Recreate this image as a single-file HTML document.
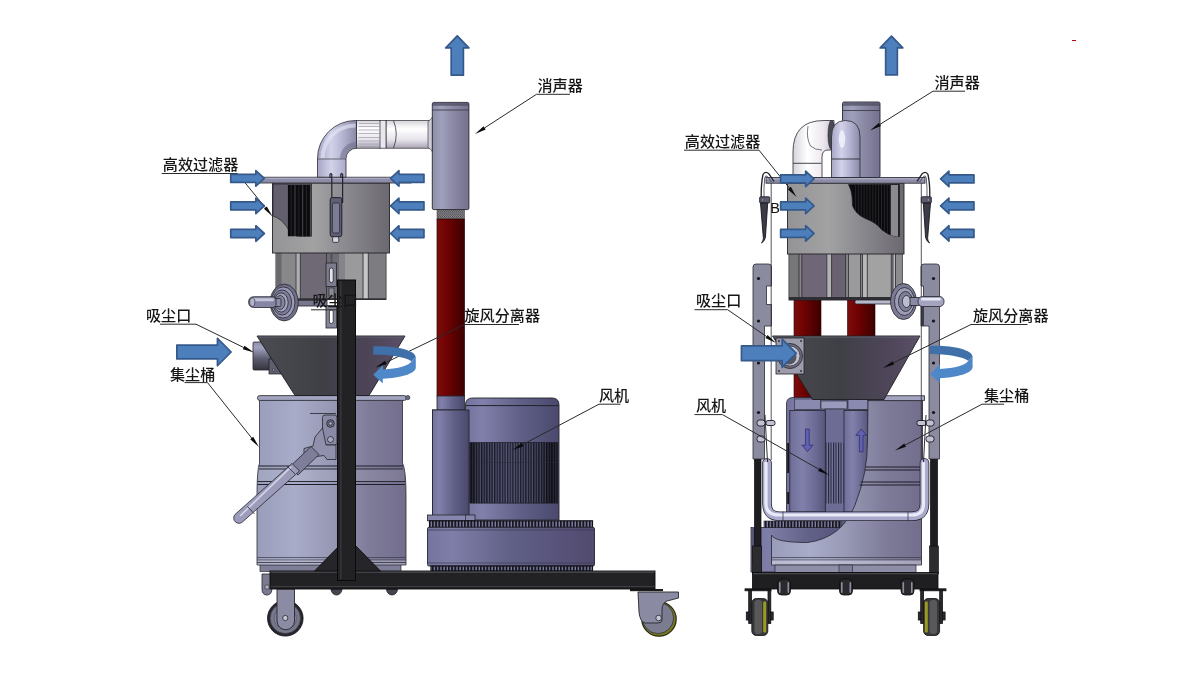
<!DOCTYPE html>
<html lang="zh-CN">
<head>
<meta charset="utf-8">
<title>工业吸尘器结构示意图</title>
<style>
html,body{margin:0;padding:0;background:#fff;}
body{width:1200px;height:680px;overflow:hidden;font-family:"Liberation Sans","Noto Sans CJK SC",sans-serif;}
svg{display:block;position:absolute;left:0;top:0;filter:blur(0.45px);}
.lbl{font-family:"Liberation Sans","Noto Sans CJK SC",sans-serif;font-size:15.1px;font-weight:500;fill:#161616;}
.ltr{font-family:"Liberation Sans",sans-serif;font-size:14.5px;fill:#111;}
.ld{stroke:#2a2a2a;stroke-width:1;fill:none;}
.ah{fill:#0c0c0c;stroke:none;}
.ar{fill:#4c7fbc;stroke:#34598a;stroke-width:1.7;stroke-linejoin:round;}
.ol{stroke:#2a2a30;stroke-width:0.8;}
</style>
</head>
<body>
<svg width="1200" height="680" viewBox="0 0 1200 680">
<defs>
  <!-- lavender metal, horizontal cylinder shading -->
  <linearGradient id="gLav" x1="0" x2="1" y1="0" y2="0">
    <stop offset="0" stop-color="#8c8eae"/><stop offset="0.28" stop-color="#a6a8c4"/><stop offset="0.6" stop-color="#8a8aa8"/><stop offset="1" stop-color="#66647f"/>
  </linearGradient>
  <linearGradient id="gSil" x1="0" x2="1" y1="0" y2="0">
    <stop offset="0" stop-color="#8c8eaa"/><stop offset="0.25" stop-color="#9ea0bc"/><stop offset="0.6" stop-color="#8987a3"/><stop offset="1" stop-color="#74718e"/>
  </linearGradient>
  <linearGradient id="gBin" x1="0" x2="1" y1="0" y2="0">
    <stop offset="0" stop-color="#9a9db9"/><stop offset="0.25" stop-color="#a9acc8"/><stop offset="0.5" stop-color="#9698b4"/><stop offset="0.75" stop-color="#7f7c9a"/><stop offset="1" stop-color="#726d8c"/>
  </linearGradient>
  <linearGradient id="gMot" x1="0" x2="1" y1="0" y2="0">
    <stop offset="0" stop-color="#72729c"/><stop offset="0.18" stop-color="#8080aa"/><stop offset="0.55" stop-color="#62628a"/><stop offset="1" stop-color="#4a486c"/>
  </linearGradient>
  <linearGradient id="gBase" x1="0" x2="1" y1="0" y2="0">
    <stop offset="0" stop-color="#74749e"/><stop offset="0.15" stop-color="#7e7ea8"/><stop offset="0.5" stop-color="#606086"/><stop offset="0.8" stop-color="#58527a"/><stop offset="1" stop-color="#524a6e"/>
  </linearGradient>
  <linearGradient id="gRed" x1="0" x2="1" y1="0" y2="0">
    <stop offset="0" stop-color="#7c0d0d"/><stop offset="0.35" stop-color="#700202"/><stop offset="1" stop-color="#3c0000"/>
  </linearGradient>
  <linearGradient id="gFil" x1="0" x2="1" y1="0" y2="0">
    <stop offset="0" stop-color="#949396"/><stop offset="0.35" stop-color="#a2a2a3"/><stop offset="0.7" stop-color="#85838a"/><stop offset="1" stop-color="#6c6870"/>
  </linearGradient>
  <linearGradient id="gCone" x1="0" x2="1" y1="0" y2="0">
    <stop offset="0" stop-color="#4b4b52"/><stop offset="0.45" stop-color="#3f3f46"/><stop offset="0.8" stop-color="#4f465a"/><stop offset="1" stop-color="#5c5068"/>
  </linearGradient>
  <linearGradient id="gWhite" x1="0" x2="0" y1="0" y2="1">
    <stop offset="0" stop-color="#d6d4da"/><stop offset="0.3" stop-color="#ffffff"/><stop offset="0.7" stop-color="#e6e2ea"/><stop offset="1" stop-color="#a9a3b3"/>
  </linearGradient>
  <linearGradient id="gWhiteH" x1="0" x2="1" y1="0" y2="0">
    <stop offset="0" stop-color="#d6d4da"/><stop offset="0.35" stop-color="#ffffff"/><stop offset="0.75" stop-color="#ece6ee"/><stop offset="1" stop-color="#c3b6c9"/>
  </linearGradient>
  <linearGradient id="gElbV" x1="0" x2="1" y1="0" y2="0">
    <stop offset="0" stop-color="#a6a6c4"/><stop offset="0.35" stop-color="#d2d2ea"/><stop offset="0.7" stop-color="#aeaecc"/><stop offset="1" stop-color="#8a89a6"/>
  </linearGradient>
  <linearGradient id="gElbH" x1="0" x2="0" y1="0" y2="1">
    <stop offset="0" stop-color="#9a9ab8"/><stop offset="0.35" stop-color="#c8c8de"/><stop offset="0.7" stop-color="#a2a2be"/><stop offset="1" stop-color="#7d7c95"/>
  </linearGradient>
  <linearGradient id="gTube" x1="0" x2="0" y1="0" y2="1">
    <stop offset="0" stop-color="#8f8fb0"/><stop offset="0.35" stop-color="#e8e8f6"/><stop offset="1" stop-color="#8585a6"/>
  </linearGradient>
  <linearGradient id="gTubeV" x1="0" x2="1" y1="0" y2="0">
    <stop offset="0" stop-color="#8f8fb0"/><stop offset="0.4" stop-color="#e8e8f6"/><stop offset="1" stop-color="#8585a6"/>
  </linearGradient>
  <linearGradient id="gInlet" x1="0" x2="0" y1="0" y2="1">
    <stop offset="0" stop-color="#8e8eae"/><stop offset="0.2" stop-color="#a2a2c0"/><stop offset="0.6" stop-color="#5c5c70"/><stop offset="1" stop-color="#34343f"/>
  </linearGradient>
  <linearGradient id="gRot" x1="0" x2="1" y1="0" y2="0">
    <stop offset="0" stop-color="#3f6ea8"/><stop offset="1" stop-color="#5b93d3"/>
  </linearGradient>
  <linearGradient id="gFinSh" x1="0" x2="1" y1="0" y2="0">
    <stop offset="0" stop-color="#000" stop-opacity="0.6"/><stop offset="0.1" stop-color="#000" stop-opacity="0.1"/><stop offset="0.45" stop-color="#8080b0" stop-opacity="0.1"/><stop offset="0.8" stop-color="#000" stop-opacity="0.12"/><stop offset="0.93" stop-color="#000" stop-opacity="0.55"/><stop offset="1" stop-color="#000" stop-opacity="0.35"/>
  </linearGradient>
  <!-- fins -->
  <pattern id="pFin" width="2.6" height="10" patternUnits="userSpaceOnUse">
    <rect width="2.6" height="10" fill="#55557a"/><rect width="1.400" height="10" fill="#17171f"/>
  </pattern>
  <pattern id="pFinB" width="7.700" height="10" patternUnits="userSpaceOnUse" x="287.800">
    <rect width="7.700" height="10" fill="#4a4650"/><rect width="6.700" height="10" fill="#0b0b0d"/><rect x="2.800" width="0.900" height="10" fill="#26262b"/>
  </pattern>
  <pattern id="pFinC" width="2.900" height="10" patternUnits="userSpaceOnUse" x="853">
    <rect width="2.900" height="10" fill="#3a3840"/><rect width="2.100" height="10" fill="#0a0a0c"/>
  </pattern>
  <pattern id="pFinM" width="2.500" height="10" patternUnits="userSpaceOnUse" x="825.500">
    <rect width="2.500" height="10" fill="#74749e"/><rect width="1.100" height="10" fill="#25253a"/>
  </pattern>
  <linearGradient id="gCyl" x1="0" x2="1" y1="0" y2="0">
    <stop offset="0" stop-color="#6e6e9a"/><stop offset="0.35" stop-color="#8080aa"/><stop offset="0.7" stop-color="#6c6c96"/><stop offset="1" stop-color="#58567c"/>
  </linearGradient>
  <pattern id="pGear" width="3.2" height="10" patternUnits="userSpaceOnUse">
    <rect width="3.2" height="10" fill="#8484ac"/><rect width="1.900" height="10" fill="#16161e"/>
  </pattern>
  <pattern id="pThread" width="2" height="2.4" patternUnits="userSpaceOnUse">
    <rect width="2" height="2.4" fill="#8a8a8e"/><rect width="1" height="1.2" fill="#4c4c50"/><rect x="1" y="1.2" width="1" height="1.2" fill="#5a5a5e"/>
  </pattern>
</defs>
<rect width="1200" height="680" fill="#ffffff"/>

<g id="left-machine">
  <!-- casters -->
  <g id="caster-l">
    <circle cx="285.3" cy="618.3" r="17.800" fill="#26262c" stroke="#131318" stroke-width="0.800"/>
    <circle cx="285.3" cy="618.3" r="15.200" fill="#77778b" stroke="#3a3a46" stroke-width="0.7"/>
    <circle cx="285.3" cy="618.3" r="11.200" fill="#83839a" stroke="#50505e" stroke-width="0.600"/>
    <path d="M277 589H294.5V621A8.7 8.7 0 0 1 277 621Z" fill="#8b8ba3" stroke="#26262e" stroke-width="0.9"/>
    <circle cx="285.3" cy="618" r="2.6" fill="#c6c6d6" stroke="#26262e" stroke-width="0.8"/>
    <path d="M262 574h10v14q0 7-5 7-5 0-5-6z" fill="#7a7a90" stroke="#26262e" stroke-width="0.8"/>
    <circle cx="267" cy="587" r="2.2" fill="#b0b0c4" stroke="#26262e" stroke-width="0.6"/>
  </g>
  <g id="caster-r">
    <circle cx="659" cy="619" r="17.2" fill="#77771f" stroke="#2a2a10" stroke-width="1.2"/>
    <circle cx="658" cy="618" r="15.6" fill="#7c7c90" stroke="#33333c" stroke-width="0.8"/>
    <path d="M638 592H678.5V598L667 601Q662 603 662 610V620Q662 623 658 623H645Q640 622 639 612Z" fill="#8a8aa2" stroke="#26262e" stroke-width="0.9"/>
    <circle cx="658.6" cy="618" r="2.8" fill="#c6c6d6" stroke="#26262e" stroke-width="0.8"/>
    <rect x="630" y="589" width="33" height="2.2" fill="#1c1c1c"/>
  </g>

  <!-- dust bin -->
  <g id="bin-l">
    <rect x="260" y="563" width="141" height="8.5" fill="#7e7e98" stroke="#2a2a30" stroke-width="0.7"/>
    <path d="M259.5 400H402.5V463Q406 470 406 495V565H257V495Q257 470 259.5 463Z" fill="url(#gBin)" stroke="#2a2a30" stroke-width="0.8"/>
    <path d="M259 466H403M259 469H403M257.500 481.500H405M257.500 484.500H405" stroke="#1e1e28" stroke-width="1.100" fill="none"/>
    <rect x="258.4" y="468.6" width="146" height="13.2" fill="#ffffff" opacity="0.08"/>
    <path d="M257 557.5H406M257 560H406" stroke="#3a3a48" stroke-width="0.7" fill="none"/>
    <rect x="257.5" y="560.4" width="148" height="4.2" fill="#c4c4d8" opacity="0.500"/>
    <path d="M257 562.500H406" stroke="#2e2e3a" stroke-width="0.800"/>
    <rect x="257.5" y="395.6" width="149" height="4.8" rx="2.2" fill="#a2a4c0" stroke="#2a2a30" stroke-width="0.8"/>
    <circle cx="407.8" cy="397.6" r="2.1" fill="#6c6c84" stroke="#2a2a30" stroke-width="0.7"/>
  </g>

  <!-- cyclone cone + inlet -->
  <g id="cone-l">
    <rect x="253" y="342" width="18" height="28" rx="1" fill="url(#gInlet)" stroke="#24242c" stroke-width="0.8"/>
    <rect x="269" y="359" width="12" height="15" fill="#5e5e6c" stroke="#1e1e24" stroke-width="0.7"/>
    <circle cx="273.6" cy="370" r="1.3" fill="#9a9aac" stroke="#1e1e24" stroke-width="0.5"/>
    <path d="M257 336H405L369 395.5H295Z" fill="url(#gCone)" stroke="#1c1c20" stroke-width="0.9"/>
    <path d="M257.5 337H404.5" stroke="#6a6a78" stroke-width="0.8"/>
  </g>

  <!-- filter -->
  <g id="filter-l">
    <rect x="276" y="252" width="110" height="47.5" fill="#858488" stroke="#1e1e22" stroke-width="0.9"/>
    <rect x="276.500" y="253" width="19" height="46" fill="#888789"/>
    <rect x="276.500" y="253" width="5" height="46" fill="#6a696d"/>
    <rect x="295.800" y="253" width="4.400" height="46" fill="#b0b0b2"/>
    <rect x="300.500" y="253" width="26.500" height="46" fill="#6f6875"/>
    <rect x="327" y="253" width="12" height="46" fill="#6d6c72"/>
    <rect x="345" y="253" width="20" height="46" fill="#9a999c"/>
    <rect x="369" y="253" width="16.5" height="46" fill="#7d7c80"/>
    <rect x="363.300" y="253" width="4.800" height="46" fill="#c6c6c8"/>
    <path d="M296 253V299M300.300 253V299M363 253V299M368.300 253V299M326.500 253V299" stroke="#2e2e34" stroke-width="0.800" fill="none"/>
    <rect x="276" y="298.300" width="110" height="1.500" fill="#2e2e34"/>
    <rect x="272.5" y="183" width="117" height="70" fill="url(#gFil)" stroke="#232328" stroke-width="0.9"/>
    <!-- cut-away -->
    <path d="M273 184H311.5V236.2H298Q291 235 286.5 226.500Q281 218.500 273 216Z" fill="#645f6d" stroke="#1c1c22" stroke-width="0.7"/>
    <rect x="287.800" y="185" width="23" height="51.300" fill="url(#pFinB)"/>
    <rect x="257.5" y="177.200" width="153.5" height="5.8" fill="#8c8ca6" stroke="#25252c" stroke-width="0.8"/>
    <rect x="258" y="177.600" width="152.500" height="1.600" fill="#b4b4cc" opacity="0.7"/>
  </g>

  <!-- elbow + white duct -->
  <g id="duct-l">
    <rect x="386" y="120.500" width="46" height="27.700" fill="url(#gWhite)" stroke="#2a2a30" stroke-width="0.7"/>
    <path d="M393.500 120.700Q399 134 393.500 148" stroke="#33333a" stroke-width="0.8" fill="none"/>
    <path d="M428.500 121.500Q432.500 134 428.500 147.500" stroke="#77778a" stroke-width="0.7" fill="none"/>
    <rect x="356.500" y="120.500" width="24" height="27.700" fill="url(#gWhite)" stroke="#2a2a30" stroke-width="0.7"/>
    <path d="M359 123.500H379M358.500 126.500H379.500M358.500 130H379.500M358.500 133.500H379.500M358.500 137.500H379.500M358.500 141H379.500M359 144H379M359.500 146.500H378.500" stroke="#a3a1ad" stroke-width="0.9" fill="none" opacity="0.85"/>
    <rect x="380" y="120.500" width="6" height="27.700" fill="#e9e7ee" stroke="#2a2a30" stroke-width="0.7"/>
    <path d="M317.500 177.200V158.500A38 38 0 0 1 355.500 120.500H356.500V148.200A10.500 10.500 0 0 0 346 158.700V177.200Z" fill="url(#gElbV)" stroke="#2a2a30" stroke-width="0.8"/>
    <path d="M324.500 158.500A31 31 0 0 1 355.500 127.500V123.500A35 35 0 0 0 320.500 158.500Z" fill="#e8e8f8" opacity="0.6"/>
    <path d="M340 158.500A16.500 16.500 0 0 1 356.500 142V147.500A11 11 0 0 0 345.500 158.500Z" fill="#6e6d88" opacity="0.55"/>
    <path d="M317.500 159H346" stroke="#3c3c48" stroke-width="0.7"/>
  </g>

  <!-- silencer + riser pipe -->
  <g id="riser-l">
    <rect x="437" y="209" width="27.500" height="10.500" fill="url(#pThread)" stroke="#3a3a40" stroke-width="0.5"/>
    <rect x="437" y="219" width="27.500" height="177.500" fill="url(#gRed)" stroke="#2a0000" stroke-width="0.7"/>
    <path d="M428 121.500Q431 119.500 432.500 117V152Q431 149 428 147.500Z" fill="#cfcbd6" stroke="#2a2a30" stroke-width="0.600"/>
    <rect x="432.300" y="102.400" width="36.600" height="107.200" rx="1.500" fill="url(#gSil)" stroke="#26262e" stroke-width="0.9"/>
    <path d="M432.500 105H469M432.500 110H469" stroke="#34343e" stroke-width="0.8"/>
    <rect x="433" y="102.400" width="35.500" height="2.200" fill="#54546a" opacity="0.8"/>
    <rect x="437" y="396" width="27.500" height="14.500" fill="url(#gMot)" stroke="#26262e" stroke-width="0.8"/>
    <rect x="432.500" y="410" width="36.500" height="105.500" fill="url(#gMot)" stroke="#26262e" stroke-width="0.9"/>
  </g>

  <!-- motor + blower -->
  <g id="blower-l">
    <path d="M465.500 520V405Q465.500 398 472.500 398H552Q559 398 559 405V520Z" fill="url(#gMot)" stroke="#26262e" stroke-width="0.9"/>
    <path d="M466 405.600H558.500" stroke="#22222c" stroke-width="1"/>
    <rect x="469.800" y="442.600" width="88" height="60.500" fill="url(#pFin)"/>
    <rect x="469.800" y="442.600" width="88" height="60.500" fill="url(#gFinSh)"/>
    <rect x="469.800" y="442.600" width="88" height="60.500" fill="none" stroke="#1c1c24" stroke-width="0.7"/>
    <rect x="469.500" y="462" width="88.500" height="1" fill="#2a2a38" opacity="0.5"/>
    <rect x="432.500" y="410" width="36.500" height="105.500" fill="url(#gMot)" stroke="#26262e" stroke-width="0.9"/>
    <rect x="427.500" y="515" width="47.500" height="5.800" fill="#8686ac" stroke="#26262e" stroke-width="0.8"/>
    <path d="M465.500 515V520.500" stroke="#26262e" stroke-width="0.7"/>
    <rect x="429.500" y="520.800" width="163" height="6.700" fill="url(#pGear)" stroke="#111118" stroke-width="1.200"/>
    <rect x="427.500" y="527.300" width="167" height="38.700" rx="1.500" fill="url(#gBase)" stroke="#26262e" stroke-width="0.9"/>
    <path d="M428 530H594M428 563H594" stroke="#3a3a52" stroke-width="0.7"/>
    <rect x="431" y="566" width="161.500" height="5.200" fill="url(#pGear)" stroke="#111118" stroke-width="1.200"/>
  </g>

  <!-- frame beam -->
  <g id="frame-l">
    <path d="M331 589a5.500 6 0 0 0 11 0zM386.500 589a5.500 6 0 0 0 11 0z" fill="#44444e" stroke="#1c1c22" stroke-width="0.8"/>
    <rect x="270" y="571" width="385" height="18" fill="#222224" stroke="#0c0c0e" stroke-width="0.9"/>
    <rect x="270.500" y="571.400" width="384" height="1.400" fill="#4a4a50"/>
    <rect x="270.500" y="586" width="384" height="1" fill="#3c3c42"/>
    <path d="M314.500 571L339.500 545.500V571ZM380.500 571L355.500 545.500V571Z" fill="#26262a" stroke="#0c0c0e" stroke-width="0.8"/>
    <rect x="337.500" y="280" width="18" height="300.500" fill="#222224" stroke="#0a0a0c" stroke-width="1"/>
    <rect x="340" y="281" width="1.600" height="298" fill="#34343a"/>
  </g>

  <!-- latch on filter -->
  <g id="latch-l" fill="none" stroke="#22222c" stroke-width="1.200">
    <path d="M330 178V174.500Q330.800 172.500 331.800 174.500V203" />
    <path d="M340.800 178V174.500Q341.700 172.500 342.600 174.500V203" />
    <rect x="330.200" y="197.600" width="11.600" height="39" rx="2" fill="#5e5e74" stroke-width="1"/>
    <rect x="332.400" y="203" width="7.200" height="30" rx="1.500" fill="#7c7c94" stroke-width="0.700"/>
    <rect x="332.600" y="236.800" width="6.200" height="5.600" rx="1.200" fill="#d4d4e2" stroke-width="0.800"/>
  </g>
  <!-- slotted bracket on post -->
  <g id="slot-l" stroke="#24242c" stroke-width="0.8">
    <path d="M331.500 254V263" stroke-width="2.400" stroke="#55555f"/>
    <rect x="326" y="263" width="10.500" height="23.500" fill="#7c7c8c"/>
    <rect x="329.400" y="268" width="3.800" height="14.500" rx="1.900" fill="#e4e4ec"/>
    <rect x="329" y="288" width="5" height="8" fill="#8a8a92" stroke-width="0.600"/>
    <rect x="326" y="305.500" width="10.500" height="22.500" fill="#85859a"/>
    <rect x="329.400" y="310" width="3.800" height="13.500" rx="1.900" fill="#ffffff"/>
  </g>

  <!-- valve with handle -->
  <g id="valve-l" stroke="#24242c" stroke-width="0.8">
    <rect x="296" y="300.500" width="31" height="5.500" fill="#77778f"/>
    <ellipse cx="284.200" cy="302.500" rx="14" ry="18.400" fill="#70708a"/>
    <ellipse cx="283.200" cy="302.500" rx="11.800" ry="15.600" fill="#9a9ab6"/>
    <ellipse cx="282.200" cy="302.500" rx="9.400" ry="12.600" fill="#7c7c98"/>
    <ellipse cx="281.200" cy="302.500" rx="7" ry="9.600" fill="#a4a4c0"/>
    <ellipse cx="280.200" cy="302.500" rx="4.800" ry="7" fill="#85859f"/>
    <rect x="273" y="298.500" width="8" height="8" rx="1" fill="#8c8ca8"/>
    <path d="M253.500 296.700H273Q275.500 297.200 276 299V305.200Q275.500 307 273 307.500H253.500Q248.600 307 248.600 302.100Q248.600 297.200 253.500 296.700Z" fill="#8686a4"/>
    <rect x="252" y="298.200" width="22" height="3" rx="1.500" fill="#c4c4da" stroke="none"/>
    <ellipse cx="252.300" cy="302.100" rx="2.600" ry="4.200" fill="#b4b4cc" stroke-width="0.600"/>
  </g>

  <!-- bin lever handle -->
  <g id="lever-l" stroke="#24242c" stroke-width="0.8">
    <path d="M310 413.500H336" fill="none"/>
    <rect x="322.500" y="415" width="14.500" height="30" rx="2.500" fill="#8a8aa6"/>
    <circle cx="330.500" cy="423.500" r="3.800" fill="#6c6c86"/>
    <circle cx="330.500" cy="423.500" r="1.700" fill="#b8b8cc"/>
    <circle cx="330.500" cy="439.500" r="3" fill="#a8a8c0"/>
    <path d="M322.500 428L315 437L313 446L304 448.500V454.500L312 457L324 455.500L327 459.500H336V445H326Z" fill="#9090ac"/>
    <path d="M311 446.500L319 454.500L298 475L289.500 467Z" fill="#7e7e9a"/>
    <path d="M292 463.500L299.500 471L243 521.500A5 5 0 0 1 235 514.500Z" fill="#9c9cba"/>
    <path d="M291 467L240 516" stroke="#d6d6ea" stroke-width="1.600" fill="none"/>
    <path d="M247.500 506.500L254.500 514" fill="none"/>
    <path d="M287.500 466.500L295 474" fill="none"/>
  </g>
</g>


<g id="right-machine">
  <!-- casters (front view) -->
  <g id="casters-r" stroke="#121214" stroke-width="0.8">
    <rect x="745" y="588.800" width="26" height="2" fill="#1c1c1e"/>
    <rect x="748.700" y="590.500" width="2.800" height="33" fill="#2a2a2e"/>
    <rect x="768" y="590.500" width="2.800" height="33" fill="#2a2a2e"/>
    <rect x="751.800" y="598.500" width="16" height="37" rx="4.500" fill="#38383b"/>
    <rect x="754.500" y="600" width="7.500" height="34" rx="3" fill="#58585b" stroke="none"/>
    <rect x="763.200" y="601.500" width="3" height="31" rx="1" fill="#9a9a1e" stroke="none"/>
    <rect x="746.300" y="612" width="2.600" height="8" fill="#2a2a2e"/>
    <rect x="770.600" y="612" width="2.600" height="8" fill="#2a2a2e"/>
    <rect x="920" y="588.800" width="26" height="2" fill="#1c1c1e"/>
    <rect x="920.700" y="590.500" width="2.800" height="33" fill="#2a2a2e"/>
    <rect x="939.700" y="590.500" width="2.800" height="33" fill="#2a2a2e"/>
    <rect x="923.600" y="598.500" width="16" height="37" rx="4.500" fill="#38383b"/>
    <rect x="929.500" y="600" width="7.500" height="34" rx="3" fill="#58585b" stroke="none"/>
    <rect x="924.800" y="601.500" width="3" height="31" rx="1" fill="#9a9a1e" stroke="none"/>
    <rect x="918.300" y="612" width="2.600" height="8" fill="#2a2a2e"/>
    <rect x="942.500" y="612" width="2.600" height="8" fill="#2a2a2e"/>
  </g>

  <!-- red riser pipes (behind cone) -->
  <rect x="794" y="299" width="27" height="104" fill="url(#gRed)" stroke="#2a0000" stroke-width="0.6"/>
  <rect x="847.500" y="299" width="27.500" height="40" fill="url(#gRed)" stroke="#2a0000" stroke-width="0.6"/>

  <!-- blower, front view -->
  <g id="blower-r">
    <rect x="751" y="527.500" width="120" height="44.500" fill="url(#gBase)" stroke="#26262e" stroke-width="0.8"/>
    <rect x="752" y="527" width="8" height="36" fill="#55557a"/>
    <path d="M786.500 527V404Q786.500 397.500 793 397.500H868V527Z" fill="url(#gMot)" stroke="#26262e" stroke-width="0.8"/>
    <rect x="821" y="401" width="26" height="8" fill="#9a9abc" stroke="#26262e" stroke-width="0.6"/>
    <rect x="794.500" y="399" width="26" height="10.500" fill="#8a8ab0" stroke="#26262e" stroke-width="0.6"/>
    <rect x="848" y="399" width="20" height="10.500" fill="#8a8ab0" stroke="#26262e" stroke-width="0.6"/>
    <rect x="825" y="409" width="19.500" height="105" fill="#6c6c94" stroke="#26262e" stroke-width="0.6"/>
    <rect x="825.500" y="442.500" width="18" height="61" fill="url(#pFinM)"/>
    <rect x="789.800" y="410.500" width="35.500" height="101.500" fill="url(#gCyl)" stroke="#26262e" stroke-width="0.8"/>
    <rect x="844" y="410.500" width="24" height="101.500" fill="url(#gCyl)" stroke="#26262e" stroke-width="0.8"/>
    <rect x="787.300" y="443" width="1.600" height="30" fill="#0c0c10"/>
    <rect x="787.300" y="492" width="1.600" height="12" fill="#0c0c10"/>
    <path d="M805.600 429H809.200V445.200H812.900L807.400 451.600L801.900 445.200H805.600Z" fill="#6262b4" stroke="#30306e" stroke-width="0.800"/>
    <path d="M861.200 429L866.600 435.300H863V451.800H859.400V435.300H855.800Z" fill="#6262b4" stroke="#30306e" stroke-width="0.800"/>
    <rect x="764" y="521" width="77" height="6.600" fill="url(#pGear)" stroke="#1c1c24" stroke-width="0.6"/>
  </g>

  <!-- dust bin, cut-away -->
  <g id="bin-r">
    <path d="M868 400.500H922.500V463.500Q921.500 466 921.500 470V565H771.500V535Q775 542.500 807.500 542.500Q842 538 855 505Q868 472 867.500 440Z" fill="url(#gBin)" stroke="#26262e" stroke-width="0.8"/>
    <path d="M866 467H922M865 470H922M860.500 482H921.500M859.500 485H921.500" stroke="#1e1e28" stroke-width="1" fill="none"/>
    <path d="M771.500 557.500H921.500M771.500 560H921.500" stroke="#3a3a48" stroke-width="0.7" fill="none"/>
    <rect x="772" y="560.400" width="149" height="4.200" fill="#d2d2e4" opacity="0.55"/>
    <path d="M869 395.700H924.500V400.600H867.500Z" fill="#a2a4c0" stroke="#26262e" stroke-width="0.8"/>
    <rect x="775" y="565" width="141" height="7.500" fill="#8e8ea8" stroke="#26262e" stroke-width="0.7"/>
    <rect x="839" y="565" width="13.500" height="7.500" fill="#7e7e98" stroke="#26262e" stroke-width="0.6"/>
  </g>

  <!-- base frame -->
  <g id="frame-r">
    <rect x="754.500" y="459" width="6.500" height="114" fill="#1e1e20" stroke="#08080a" stroke-width="0.7"/>
    <rect x="930.500" y="459" width="7" height="114" fill="#1e1e20" stroke="#08080a" stroke-width="0.7"/>
    <rect x="752.500" y="546" width="9" height="28" fill="#2c2c30" stroke="#08080a" stroke-width="0.6"/>
    <rect x="929.500" y="546" width="9" height="28" fill="#2c2c30" stroke="#08080a" stroke-width="0.6"/>
    <rect x="752.500" y="572.500" width="185.500" height="16.500" fill="#1f1f22" stroke="#08080a" stroke-width="0.8"/>
    <rect x="753" y="573" width="184.500" height="1.300" fill="#45454c"/>
    <g fill="#2a2a2e" stroke="#0c0c0e" stroke-width="0.8">
      <rect x="777.500" y="579" width="13" height="16" rx="4"/><rect x="839.500" y="579" width="13" height="16" rx="4"/><rect x="901" y="579" width="13" height="16" rx="4"/>
    </g>
    <g fill="#8e8e9e" stroke="none">
      <rect x="779" y="582" width="1.600" height="11" rx="0.800"/><rect x="787.500" y="582" width="1.600" height="11" rx="0.800"/><rect x="841" y="582" width="1.600" height="11" rx="0.800"/><rect x="849.500" y="582" width="1.600" height="11" rx="0.800"/><rect x="902.500" y="582" width="1.600" height="11" rx="0.800"/><rect x="911" y="582" width="1.600" height="11" rx="0.800"/>
    </g>
  </g>

  <!-- side uprights -->
  <g id="uprights-r" stroke="#2a2a34" stroke-width="0.8">
    <path d="M753 459V267Q753 264 756 264H768.500Q771.500 264 771.500 267V286H766.500V304.500H771.500V326H764.500V459Z" fill="#8b8ba0"/>
    <path d="M939.500 459V267Q939.500 264 936.500 264H924Q921 264 921 267V286H923.500V304.500H921V326H929V459Z" fill="#8b8ba0"/>
    <rect x="921" y="300" width="3" height="26" fill="#3c3c48" stroke="none"/>
    <g fill="#15151a" stroke="none">
      <circle cx="758.500" cy="278.500" r="1.600"/><circle cx="758.500" cy="321" r="1.600"/><circle cx="758.500" cy="363" r="1.600"/><circle cx="758.500" cy="412.500" r="1.600"/>
      <circle cx="933.500" cy="278.500" r="1.600"/><circle cx="933.500" cy="321" r="1.600"/><circle cx="933.500" cy="363" r="1.600"/><circle cx="933.500" cy="412.500" r="1.600"/>
    </g>
  </g>

  <!-- cyclone cone -->
  <g id="cone-r">
    <path d="M772.500 336H920L884 399.500H812.500Z" fill="url(#gCone)" stroke="#1c1c20" stroke-width="0.9"/>
    <path d="M773 337H919.500" stroke="#6a6a78" stroke-width="0.8"/>
    <rect x="776" y="338" width="28" height="36" fill="#9c9cac" stroke="#24242c" stroke-width="0.8"/>
    <circle cx="790" cy="356" r="12.500" fill="#6a6a7c" stroke="#24242c" stroke-width="0.8"/>
    <circle cx="790" cy="356" r="10" fill="#c0c0d0" stroke="#24242c" stroke-width="0.6"/>
    <circle cx="789" cy="357" r="7.500" fill="#55555f"/>
    <g fill="#33333c"><circle cx="779" cy="341" r="1"/><circle cx="801" cy="341" r="1"/><circle cx="779" cy="371" r="1"/><circle cx="801" cy="371" r="1"/></g>
  </g>

  <!-- filter -->
  <g id="filter-r">
    <path d="M771.200 183V460M921.300 183V460" stroke="#2a2a34" stroke-width="0.8" fill="none"/>
    <rect x="789" y="253" width="113.500" height="47" fill="#858488" stroke="#1e1e22" stroke-width="0.9"/>
    <rect x="789.500" y="254" width="9.500" height="45" fill="#77777a"/>
    <rect x="801.800" y="254" width="25" height="45" fill="#6f6775"/>
    <rect x="826.800" y="254" width="4.800" height="45" fill="#b2b2b4"/>
    <rect x="831.600" y="254" width="14" height="45" fill="#6a6270"/>
    <rect x="848.500" y="254" width="12" height="45" fill="#9a9a9b"/>
    <rect x="862.500" y="254" width="4.800" height="45" fill="#b8b8ba"/>
    <rect x="867.300" y="254" width="24" height="45" fill="#a2a2a3"/>
    <rect x="893" y="254" width="2.500" height="45" fill="#bcbcbe"/>
    <rect x="895.500" y="254" width="7" height="45" fill="#8c8c8e"/>
    <path d="M799 254V299M801.800 254V299M826.800 254V299M831.600 254V299M845.600 254V299M848.500 254V299M860.500 254V299M862.500 254V299M867.300 254V299M891.300 254V299M893 254V299M895.500 254V299" stroke="#2a2a30" stroke-width="0.800" fill="none"/>
    <rect x="789" y="297" width="113.500" height="3" fill="#2e2e34"/>
    <rect x="787.500" y="183" width="116.500" height="71" fill="url(#gFil)" stroke="#232328" stroke-width="0.9"/>
    <clipPath id="cutR"><path d="M848.500 184.500H899.500V236.500H896Q888 235 881.500 229.500Q877 223 865.500 218.600Q856 214.500 852.500 205.700Q852.500 196 850.800 190Z"/></clipPath>
    <path d="M848.500 184.500H899.500V236.500H896Q888 235 881.500 229.500Q877 223 865.500 218.600Q856 214.500 852.500 205.700Q852.500 196 850.800 190Z" fill="#0b0b0d" stroke="#1c1c22" stroke-width="0.7"/>
    <g clip-path="url(#cutR)">
      <rect x="853" y="185" width="37.500" height="52" fill="url(#pFinC)" opacity="0.650"/>
      <rect x="890.800" y="185" width="7.400" height="52" fill="#8a8a8f"/>
    </g>
  </g>

  <!-- ducts on top -->
  <g id="duct-r">
    <rect x="842.500" y="102" width="37.500" height="75.500" rx="1.500" fill="url(#gSil)" stroke="#26262e" stroke-width="0.9"/>
    <path d="M843 105H879.500M843 110.500H879.500" stroke="#34343e" stroke-width="0.8"/>
    <rect x="843.500" y="102.400" width="35.500" height="2.200" fill="#54546a" opacity="0.8"/>
    <path d="M793 177.500V152Q793 120.500 824 120.500H834V150H828Q822 150 822 157V177.500Z" fill="url(#gWhiteH)" stroke="#2a2a30" stroke-width="0.8"/>
    <path d="M808 126Q806 138 810.500 146Q815 150 822 150" stroke="#44444e" stroke-width="0.7" fill="none"/>
    <path d="M793 163.300H821.500" stroke="#33333e" stroke-width="0.900"/>
    <ellipse cx="831.500" cy="135" rx="3.500" ry="14.500" fill="#4a4a56" stroke="#24242c" stroke-width="0.6"/>
    <path d="M831.500 177.500V137Q831.500 120.500 845.500 120.500Q860 120.500 860 137V177.500Z" fill="url(#gElbV)" stroke="#2a2a30" stroke-width="0.8"/>
    <ellipse cx="842" cy="139" rx="3.200" ry="9" fill="#f4f4ff" opacity="0.8"/>
    <path d="M831.500 159H860" stroke="#2c2c38" stroke-width="0.900"/>
    <rect x="766" y="177.500" width="159" height="5.700" fill="#8c8ca6" stroke="#25252c" stroke-width="0.8"/>
    <rect x="766.500" y="178" width="158" height="1.500" fill="#b4b4cc" opacity="0.7"/>
  </g>

  <!-- side latches -->
  <g id="latches-r">
    <g>
      <path d="M917 181.500L922 174Q925.500 170.500 928 174.500Q930 184 929.800 197" fill="none" stroke="#1e1e26" stroke-width="1.300"/>
      <path d="M919.500 182L923.500 176.500Q925.500 174.500 926.300 178Q927.300 188 927 197" fill="none" stroke="#3a3a46" stroke-width="0.800"/>
      <rect x="921.300" y="196.800" width="10" height="6.200" rx="0.800" fill="#5c5c70" stroke="#1e1e26" stroke-width="0.900"/>
      <circle cx="928.300" cy="199.900" r="1.300" fill="#a0a0b4" stroke="#1e1e26" stroke-width="0.500"/>
      <path d="M923.300 203H930.500L927.600 238.500Q927.800 241 929.500 243L926.800 240.500Q925 238 925.300 233Z" fill="#3c3c48" stroke="#16161c" stroke-width="0.900" stroke-linejoin="round"/>
    </g>
    <g transform="translate(1691 0) scale(-1 1)">
      <path d="M917 181.500L922 174Q925.500 170.500 928 174.500Q930 184 929.800 197" fill="none" stroke="#1e1e26" stroke-width="1.300"/>
      <path d="M919.500 182L923.500 176.500Q925.500 174.500 926.300 178Q927.300 188 927 197" fill="none" stroke="#3a3a46" stroke-width="0.800"/>
      <rect x="921.300" y="196.800" width="10" height="6.200" rx="0.800" fill="#5c5c70" stroke="#1e1e26" stroke-width="0.900"/>
      <circle cx="928.300" cy="199.900" r="1.300" fill="#a0a0b4" stroke="#1e1e26" stroke-width="0.500"/>
      <path d="M923.300 203H930.500L927.600 238.500Q927.800 241 929.500 243L926.800 240.500Q925 238 925.300 233Z" fill="#3c3c48" stroke="#16161c" stroke-width="0.900" stroke-linejoin="round"/>
    </g>
  </g>

  <!-- push handle tube -->
  <g id="handle-r">
    <path d="M767 463V503.500Q767 516.200 779.500 516.200H912Q924.500 516.200 924.500 503.500V463" fill="none" stroke="#242430" stroke-width="9.600" stroke-linecap="round"/>
    <path d="M767 463V503.500Q767 516.200 779.500 516.200H912Q924.500 516.200 924.500 503.500V463" fill="none" stroke="#a9a9cb" stroke-width="8" stroke-linecap="round"/>
    <path d="M766 463V504Q766 515 779.500 515H912Q923.500 515 923.500 504V463" fill="none" stroke="#e9e9f8" stroke-width="3.200" stroke-linecap="round"/>
    <path d="M783 511.500V521M908 511.500V521" stroke="#2a2a36" stroke-width="0.700"/>
  </g>
  <!-- hinge bolts -->
  <g id="bolts-r" stroke="#1a1a22" stroke-width="0.900" fill="#c2c2d4">
    <rect x="757" y="420" width="8" height="6" rx="2.500"/><rect x="766" y="420.500" width="9" height="5" rx="2"/>
    <rect x="757" y="436" width="8" height="6" rx="2.500"/>
    <rect x="926" y="420" width="8" height="6" rx="2.500"/><rect x="917" y="420.500" width="9" height="5" rx="2"/>
    <rect x="926" y="436" width="8" height="6" rx="2.500"/>
    <path d="M765 415L767.500 462M926 415L923.500 462" fill="none"/>
  </g>

  <!-- valve -->
  <g id="valve-r" stroke="#24242c" stroke-width="0.800">
    <rect x="855" y="300" width="40" height="4" rx="1.500" fill="#b8b8cc"/>
    <ellipse cx="903.500" cy="301.500" rx="13" ry="18" fill="#7a7a94"/>
    <ellipse cx="904.500" cy="301.500" rx="10" ry="14" fill="#9c9cb6"/>
    <ellipse cx="905.500" cy="301.500" rx="7" ry="10" fill="#7e7e98"/>
    <ellipse cx="906.500" cy="301.500" rx="4.200" ry="6" fill="#bcbcd0"/>
    <rect x="910" y="297.500" width="10" height="8" fill="#8a8aa6"/>
    <rect x="918" y="296.500" width="26" height="10" rx="4.500" fill="#a4a4c0"/>
    <rect x="921" y="298" width="20" height="2.600" rx="1.300" fill="#e8e8f6" stroke="none"/>
  </g>
</g>


<g id="labels">
  <text class="lbl" x="162.8" y="170.3">高效过滤器</text>
  <path class="ld" d="M161.7 173.5H237.5"/>
  <path class="ld" d="M237.5 173.5L265.3 207.6"/>
  <path class="ah" d="M272.6 216.5L263.9 208.8L266.8 206.4Z"/>
  <text class="lbl" x="537.5" y="91.2">消声器</text>
  <path class="ld" d="M536.5 94.3H570.0"/>
  <path class="ld" d="M536.5 94.3L484.7 127.8"/>
  <path class="ah" d="M475.0 134.0L483.6 126.2L485.7 129.4Z"/>
  <text class="lbl" x="146.0" y="321.3">吸尘口</text>
  <path class="ld" d="M160.0 324.2H196.0"/>
  <path class="ld" d="M196.0 324.2L243.7 347.5"/>
  <path class="ah" d="M254.0 352.5L242.8 349.2L244.5 345.7Z"/>
  <text class="lbl" x="312.5" y="306.4">吸尘口</text>
  <path class="ld" d="M311.0 309.8H343.5"/>
  <text class="lbl" x="170.0" y="379.8">集尘桶</text>
  <path class="ld" d="M184.5 382.6H207.5"/>
  <path class="ld" d="M207.5 382.6L251.7 438.0"/>
  <path class="ah" d="M258.9 447.0L250.2 439.2L253.2 436.8Z"/>
  <text class="lbl" x="464.5" y="321.3">旋风分离器</text>
  <path class="ld" d="M464.5 324.5H519.0"/>
  <path class="ld" d="M464.5 324.5L385.9 362.5"/>
  <path class="ah" d="M375.5 367.5L385.0 360.8L386.7 364.2Z"/>
  <text class="lbl" x="599.0" y="401.3">风机</text>
  <path class="ld" d="M599.0 404.2H620.5"/>
  <path class="ld" d="M599.0 404.2L522.7 444.6"/>
  <path class="ah" d="M512.5 450.0L521.8 442.9L523.6 446.3Z"/>
  <text class="lbl" x="684.8" y="147.3">高效过滤器</text>
  <path class="ld" d="M684.0 150.2H759.0"/>
  <path class="ld" d="M759.0 150.2L789.3 188.0"/>
  <path class="ah" d="M796.5 197.0L787.8 189.2L790.8 186.8Z"/>
  <text class="lbl" x="934.5" y="88.3">消声器</text>
  <path class="ld" d="M933.0 91.2H965.0"/>
  <path class="ld" d="M933.0 91.2L879.8 124.5"/>
  <path class="ah" d="M870.1 130.6L878.8 122.9L880.9 126.1Z"/>
  <text class="lbl" x="696.0" y="306.3">吸尘口</text>
  <path class="ld" d="M694.5 309.7H727.6"/>
  <path class="ld" d="M727.6 309.7L766.5 336.5"/>
  <path class="ah" d="M776.0 343.0L765.4 338.0L767.6 334.9Z"/>
  <text class="lbl" x="973.0" y="321.3">旋风分离器</text>
  <path class="ld" d="M971.0 324.5H1027.5"/>
  <path class="ld" d="M971.0 324.5L893.3 362.9"/>
  <path class="ah" d="M883.0 368.0L892.5 361.2L894.2 364.6Z"/>
  <text class="lbl" x="696.0" y="411.3">风机</text>
  <path class="ld" d="M694.5 414.6H722.5"/>
  <path class="ld" d="M722.5 414.6L819.0 469.3"/>
  <path class="ah" d="M829.0 475.0L818.1 471.0L819.9 467.7Z"/>
  <text class="lbl" x="984.0" y="401.3">集尘桶</text>
  <path class="ld" d="M982.0 404.2H1004.0"/>
  <path class="ld" d="M982.0 404.2L905.2 445.1"/>
  <path class="ah" d="M895.0 450.5L904.3 443.4L906.0 446.8Z"/>
  <text class="ltr" x="770.3" y="212.6">B</text>
  <rect x="1072" y="40" width="4" height="1" fill="#c0001a"/>
</g>


<g id="arrows">
  <!-- exhaust arrows -->
  <path class="ar" d="M457.30 35.92L468.90 47.95L463.40 47.95L463.40 75.15L451.20 75.15L451.20 47.95L445.70 47.95Z"/>
  <path class="ar" d="M891.50 36.13L902.81 47.95L897.35 47.95L897.35 74.95L885.65 74.95L885.65 47.95L880.19 47.95Z"/>
  <!-- intake arrows, left machine -->
  <path class="ar" d="M230.75 174.35L255.85 174.35L255.85 170.63L264.34 178.40L255.85 186.17L255.85 182.45L230.75 182.45Z"/>
  <path class="ar" d="M230.75 201.85L255.85 201.85L255.85 198.13L264.34 205.90L255.85 213.67L255.85 209.95L230.75 209.95Z"/>
  <path class="ar" d="M230.75 229.45L255.85 229.45L255.85 225.73L264.34 233.50L255.85 241.27L255.85 237.55L230.75 237.55Z"/>
  <path class="ar" d="M423.95 174.35L398.95 174.35L398.95 170.64L390.55 178.40L398.95 186.16L398.95 182.45L423.95 182.45Z"/>
  <path class="ar" d="M423.95 201.85L398.95 201.85L398.95 198.14L390.55 205.90L398.95 213.66L398.95 209.95L423.95 209.95Z"/>
  <path class="ar" d="M423.95 229.45L398.95 229.45L398.95 225.74L390.55 233.50L398.95 241.26L398.95 237.55L423.95 237.55Z"/>
  <!-- intake arrows, right machine -->
  <path class="ar" d="M780.65 174.85L805.65 174.85L805.65 171.14L814.05 178.90L805.65 186.66L805.65 182.95L780.65 182.95Z"/>
  <path class="ar" d="M780.65 201.85L805.65 201.85L805.65 198.14L814.05 205.90L805.65 213.66L805.65 209.95L780.65 209.95Z"/>
  <path class="ar" d="M780.65 229.35L805.65 229.35L805.65 225.64L814.05 233.40L805.65 241.16L805.65 237.45L780.65 237.45Z"/>
  <path class="ar" d="M973.95 174.85L948.95 174.85L948.95 171.14L940.55 178.90L948.95 186.66L948.95 182.95L973.95 182.95Z"/>
  <path class="ar" d="M973.95 201.85L948.95 201.85L948.95 198.14L940.55 205.90L948.95 213.66L948.95 209.95L973.95 209.95Z"/>
  <path class="ar" d="M973.95 229.35L948.95 229.35L948.95 225.64L940.55 233.40L948.95 241.16L948.95 237.45L973.95 237.45Z"/>
  <!-- dust inlet arrows -->
  <path class="ar" d="M176.85 345.10L217.45 345.10L217.45 338.26L231.10 352.00L217.45 365.74L217.45 358.90L176.85 358.90Z"/>
  <path class="ar" d="M741.45 345.95L782.15 345.95L782.15 339.15L796.30 353.30L782.15 367.45L782.15 360.65L741.45 360.65Z"/>
  <!-- rotation arrows -->
  <g id="rot-l">
    <path d="M373.2 346.5C394 345.500 415.800 350 415.800 357.500L411.500 361.200C404 357 391 354.800 373.200 354.600Z" fill="#3f70aa"/>
    <path d="M415.800 357.500V367.700C415.800 373.500 400 378 382.800 378.700V383.500L373.200 374.700L383.100 365V369.400C398 368.600 409.500 365.500 411.500 361.200Z" fill="#4f88c8"/>
  </g>
  <g id="rot-r" transform="translate(556.800 -0.500)">
    <path d="M373.2 346.5C394 345.500 415.800 350 415.800 357.500L411.500 361.200C404 357 391 354.800 373.200 354.600Z" fill="#3f70aa"/>
    <path d="M415.800 357.500V367.700C415.800 373.500 400 378 382.800 378.700V383.500L373.200 374.700L383.100 365V369.400C398 368.600 409.500 365.500 411.500 361.200Z" fill="#4f88c8"/>
  </g>
</g>


</svg>
</body>
</html>
